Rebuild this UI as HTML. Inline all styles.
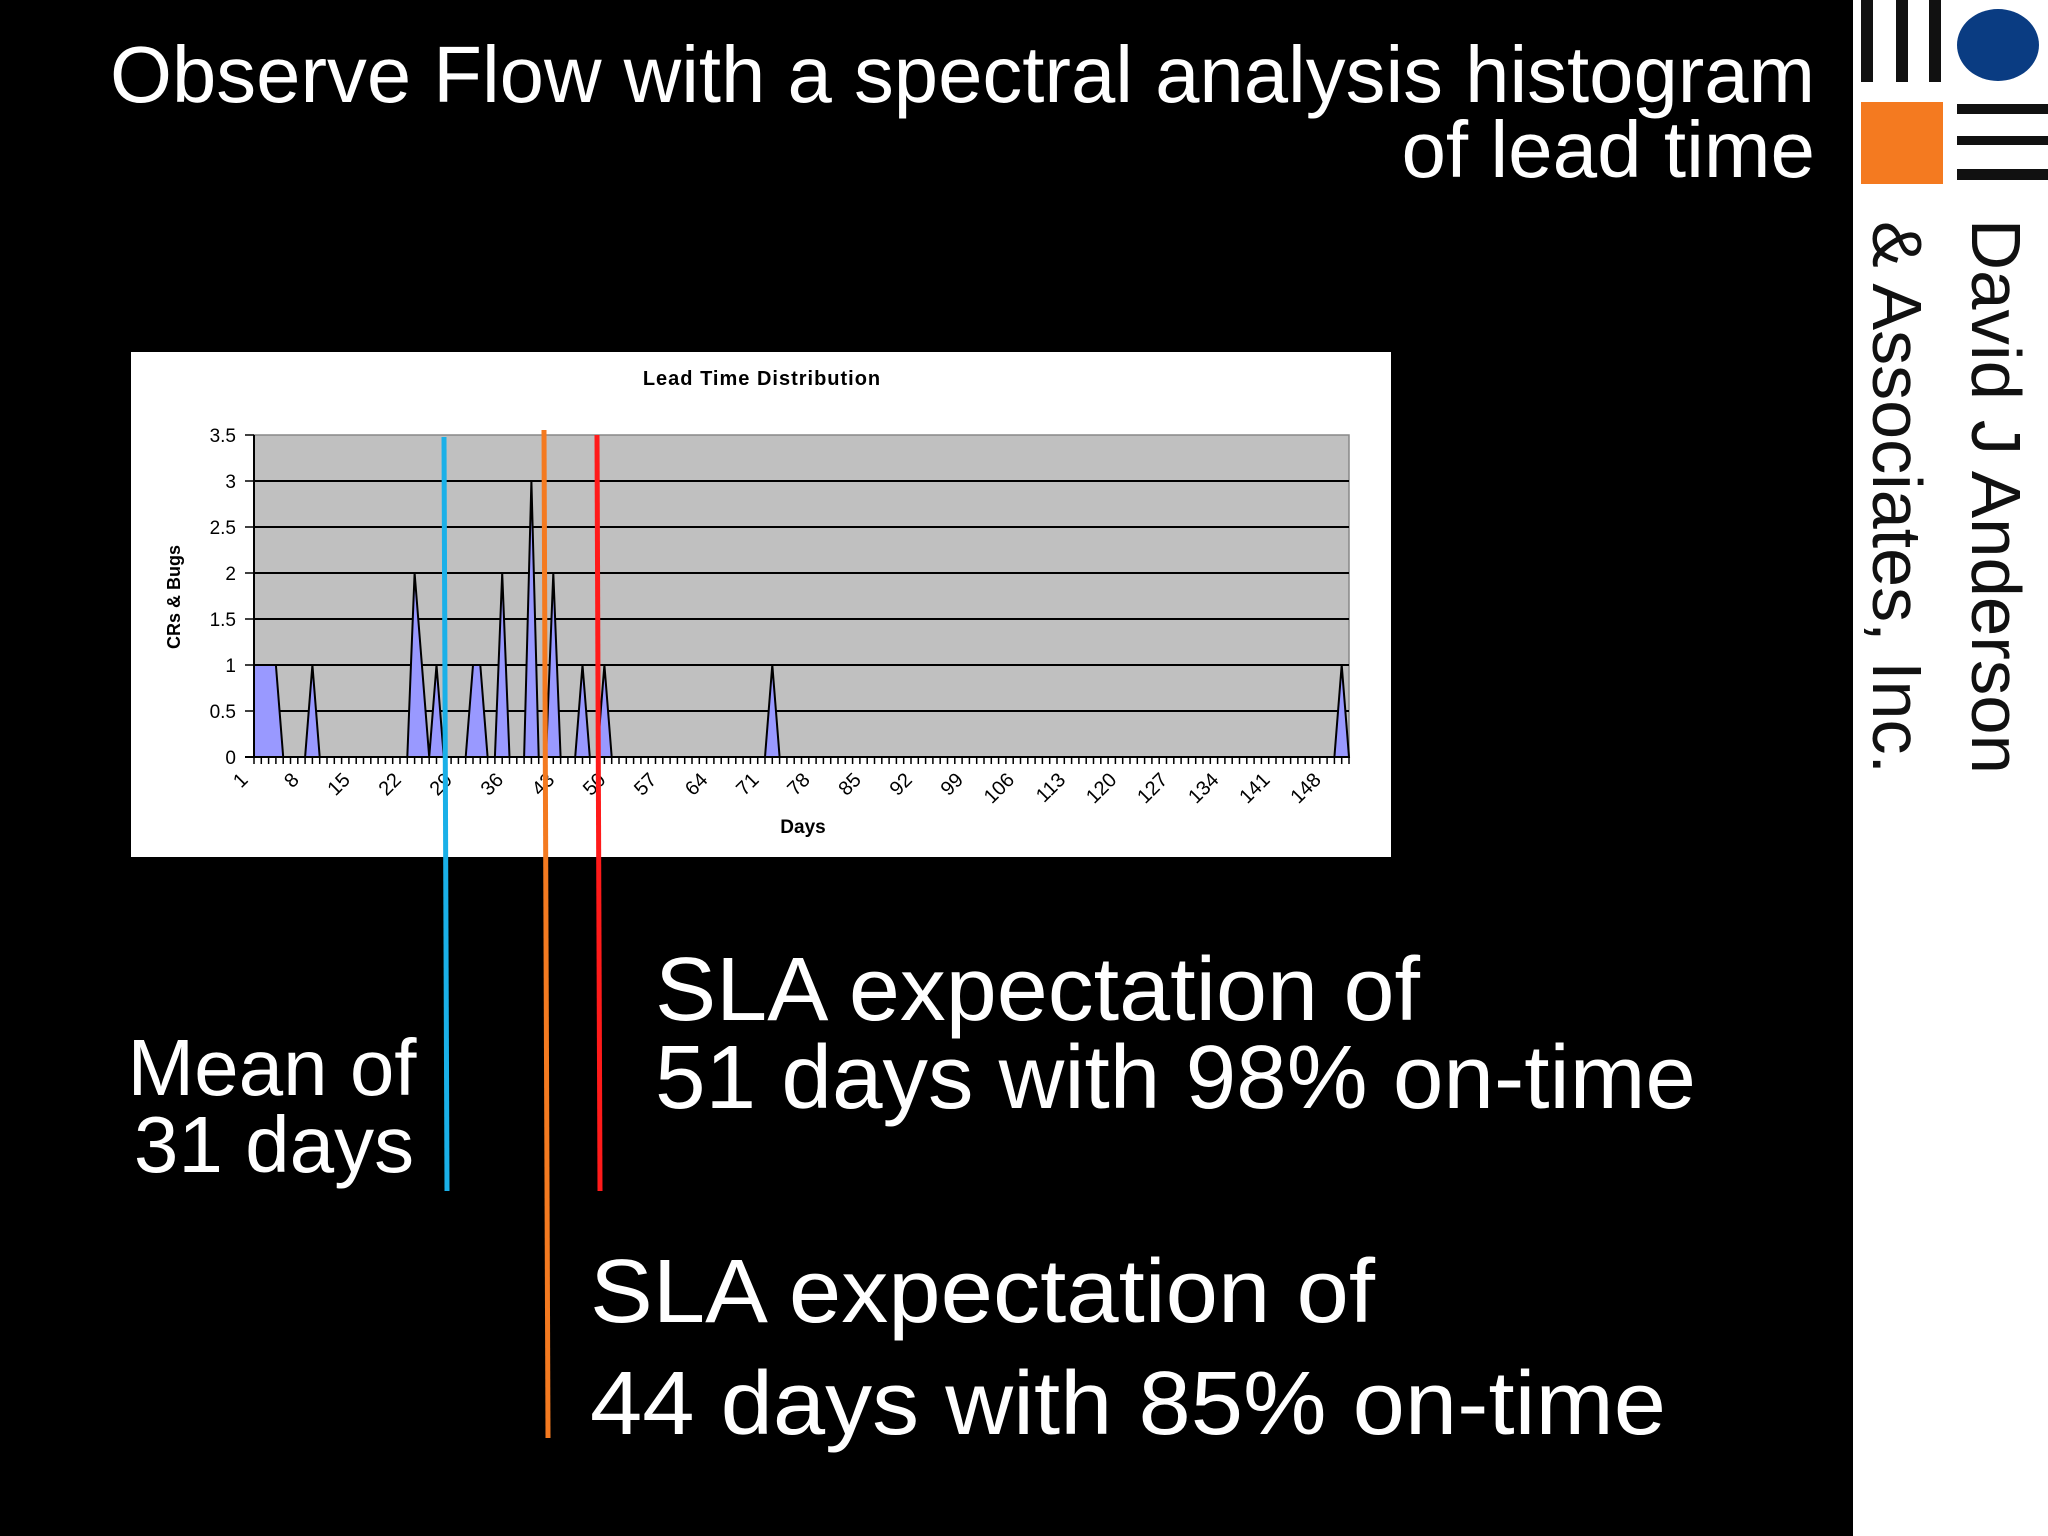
<!DOCTYPE html>
<html><head><meta charset="utf-8"><style>
html,body{margin:0;padding:0;background:#000;}
svg{display:block;font-family:"Liberation Sans",sans-serif;}
</style></head><body>
<svg id="s" width="2048" height="1536" viewBox="0 0 2048 1536" xmlns="http://www.w3.org/2000/svg">
<rect x="0" y="0" width="2048" height="1536" fill="#000"/>
<g fill="#fff" font-size="80" text-anchor="end">
<text x="1815" y="102" textLength="1705" lengthAdjust="spacingAndGlyphs">Observe Flow with a spectral analysis histogram</text>
<text x="1815" y="177">of lead time</text>
</g>
<g>
<rect x="1853" y="0" width="195" height="1536" fill="#fff"/>
<rect x="1861" y="0" width="12" height="82" fill="#111"/>
<rect x="1896" y="0" width="12" height="82" fill="#111"/>
<rect x="1929" y="0" width="12" height="82" fill="#111"/>
<ellipse cx="1998" cy="45" rx="41" ry="36" fill="#0a3c82"/>
<rect x="1861" y="102" width="82" height="82" fill="#f47a20"/>
<rect x="1957" y="104" width="91" height="10" fill="#111"/>
<rect x="1957" y="136" width="91" height="9" fill="#111"/>
<rect x="1957" y="169" width="91" height="11" fill="#111"/>
<text transform="translate(1972,219) rotate(90)" font-size="70" fill="#111" textLength="555" lengthAdjust="spacingAndGlyphs">David J Anderson</text>
<text transform="translate(1873,221) rotate(90)" font-size="70" fill="#111" textLength="553" lengthAdjust="spacingAndGlyphs">&amp; Associates, Inc.</text>
</g>
<g id="chart">
<rect x="131" y="352" width="1260" height="505" fill="#fff"/>
<text x="762" y="385" font-size="20" font-weight="bold" text-anchor="middle" fill="#000" letter-spacing="1">Lead Time Distribution</text>
<rect x="254" y="435" width="1095" height="322" fill="#c0c0c0" stroke="#888" stroke-width="1.5"/>
<text transform="translate(180,597) rotate(-90)" font-size="18" font-weight="bold" text-anchor="middle">CRs &amp; Bugs</text>
<text x="803" y="833" font-size="19" font-weight="bold" text-anchor="middle">Days</text>
<g id="grid"></g><g id="area"></g><g id="axes"></g>
</g>
<g>
<line x1="444" y1="437" x2="447" y2="1191" stroke="#1ab0e8" stroke-width="5"/>
<line x1="544" y1="430" x2="548" y2="1438" stroke="#f47a20" stroke-width="5"/>
<line x1="597" y1="435" x2="600" y2="1191" stroke="#ff1a1a" stroke-width="5"/>
</g>
<g fill="#fff">
<text x="272" y="1095" font-size="80" text-anchor="middle">Mean of</text>
<text x="274" y="1172" font-size="80" text-anchor="middle">31 days</text>
<text x="655" y="1020" font-size="90" textLength="765" lengthAdjust="spacingAndGlyphs">SLA expectation of</text>
<text x="655" y="1108" font-size="90" textLength="1041" lengthAdjust="spacingAndGlyphs">51 days with 98% on-time</text>
<text x="590" y="1322" font-size="90" textLength="785" lengthAdjust="spacingAndGlyphs">SLA expectation of</text>
<text x="590" y="1434" font-size="90" textLength="1076" lengthAdjust="spacingAndGlyphs">44 days with 85% on-time</text>
</g>
</svg>
<script>
const counts = [
1,1,1,1,0,0,0,0,1,0,
0,0,0,0,0,0,0,0,0,0,
0,0,2,1,0,1,0,0,0,0,
1,1,0,0,2,0,0,0,3,0,
0,2,0,0,0,1,0,0,1,0,
0,0,0,0,0,0,0,0,0,0,
0,0,0,0,0,0,0,0,0,0,
0,1,0,0,0,0,0,0,0,0,
0,0,0,0,0,0,0,0,0,0,
0,0,0,0,0,0,0,0,0,0,
0,0,0,0,0,0,0,0,0,0,
0,0,0,0,0,0,0,0,0,0,
0,0,0,0,0,0,0,0,0,0,
0,0,0,0,0,0,0,0,0,0,
0,0,0,0,0,0,0,0,0,1,
0];
const yTicks = [0,0.5,1,1.5,2,2.5,3,3.5];
const xLabelDays = [1,8,15,22,29,36,43,50,57,64,71,78,85,92,99,106,113,120,127,134,141,148];
const NS="http://www.w3.org/2000/svg";
const L=254,R=1349,T=435,B=757,YMAX=3.5;
const n=counts.length;
function xs(day){return L+(day-1)*(R-L)/(n-1);}
function ys(v){return B-v/YMAX*(B-T);}
function mk(tag,attrs,parent){const e=document.createElementNS(NS,tag);for(const k in attrs)e.setAttribute(k,attrs[k]);parent.appendChild(e);return e;}
const grid=document.getElementById('grid'),area=document.getElementById('area'),axes=document.getElementById('axes');
yTicks.forEach(v=>{
  if(v>0&&v<YMAX){const g=mk('line',{x1:L,x2:R,y1:ys(v),y2:ys(v),stroke:'#000','stroke-width':2},grid);
  
  }
  const t=mk('line',{x1:L-9,x2:L,y1:ys(v),y2:ys(v),stroke:'#000','stroke-width':1.5},axes);
  
  
  const lb=mk('text',{x:236,y:ys(v)+7,'font-size':19,'text-anchor':'end'},axes);
  lb.textContent=String(v);
  
  
});
let d='M'+xs(1)+','+ys(0);
counts.forEach((v,i)=>{d+=' L'+xs(i+1).toFixed(2)+','+ys(v).toFixed(2);});
d+=' L'+xs(n)+','+ys(0)+' Z';
const p=mk('path',{d:d,fill:'#9999ff',stroke:'#000','stroke-width':2,'stroke-linejoin':'miter'},area);


const ax=mk('line',{x1:L,x2:L,y1:T,y2:B,stroke:'#000','stroke-width':2},axes);


const bx=mk('line',{x1:L-9,x2:R,y1:B,y2:B,stroke:'#000','stroke-width':2},axes);


counts.forEach((v,i)=>{
  const t=mk('line',{x1:xs(i+1),x2:xs(i+1),y1:B,y2:B+7,stroke:'#000','stroke-width':1.5},axes);
  
  
});
xLabelDays.forEach(day=>{
  const x=xs(day)-5,y=B+24;
  const lb=mk('text',{x:0,y:0,'font-size':20,'text-anchor':'end',transform:'translate('+x+','+y+') rotate(-45)'},axes);
  lb.textContent=String(day);
  
  
});
</script>
</body></html>
